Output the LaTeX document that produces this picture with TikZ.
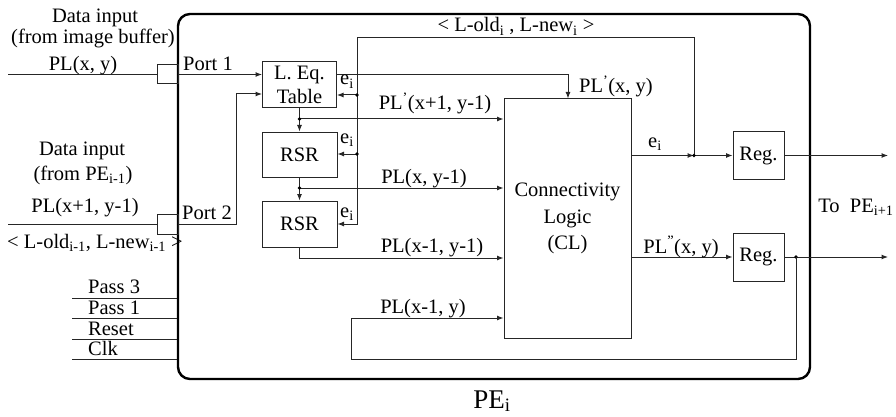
\documentclass[tikz,border=0pt]{standalone}
\usepackage{fontspec}
\setmainfont{Liberation Serif}
\usetikzlibrary{arrows.meta}
\begin{document}
\begin{tikzpicture}[x=1pt,y=-1pt,
  every node/.style={font=\fontsize{20.5}{25}\selectfont, inner sep=0pt},
  blk/.style={draw=black!85, line width=1pt},
  wire/.style={draw=black!85, line width=1pt},
  arr/.style={wire, -{Latex[length=6.5pt,width=5pt]}},
  lbl/.style={anchor=base},
  lblw/.style={anchor=base west}]
\useasboundingbox (0,0) rectangle (896,417);

% outer frame
\node[draw, line width=2.4pt, rounded corners=12pt, minimum width=632pt, minimum height=365pt] (pe) at (494,196.5) {};

% blocks
\node[blk, minimum width=21pt, minimum height=19pt] (port1) at (167.5,74.5) {};
\node[blk, minimum width=21pt, minimum height=20pt] (port2) at (167.5,224) {};
\node[blk, minimum width=74pt, minimum height=46pt, align=center, font=\fontsize{20.5}{24}\selectfont] (table) at (299.5,85) {L. Eq.\\Table};
\node[blk, minimum width=75pt, minimum height=45pt] (rsr1) at (299.5,154.5) {RSR};
\node[blk, minimum width=75pt, minimum height=46pt] (rsr2) at (299.5,224) {RSR};
\node[blk, minimum width=127pt, minimum height=239pt, align=center, font=\fontsize{20.5}{26.5}\selectfont] (cl) at (567.5,218.5) {Connectivity\\Logic\\(CL)};
\node[blk, minimum width=51pt, minimum height=48pt] (reg1) at (758.5,155.5) {Reg.};
\node[blk, minimum width=51pt, minimum height=48pt] (reg2) at (758.5,257) {Reg.};

% coordinates
\coordinate (in1) at (8,74.5);
\coordinate (in2) at (8,224);
\coordinate (p2turn) at (236,224);
\coordinate (t2) at (262,94);
\coordinate (ej) at (694,155.5);
\coordinate (fbtop) at (357,38);
\coordinate (fbbot) at (357,224);
\coordinate (fb1) at (357,95);
\coordinate (fb2) at (357,154);
\coordinate (plxy) at (568,74.5);
\coordinate (o1) at (888,155.5);
\coordinate (o2) at (888,257);
\coordinate (d1) at (299.5,119);
\coordinate (d2) at (299.5,188);
\coordinate (c3) at (299.5,258);
\coordinate (d3) at (796,257);
\coordinate (lpb) at (351,359);
\coordinate (lpt) at (351,318);
\coordinate (ca) at (72,298);
\coordinate (cb) at (72,318);
\coordinate (cc) at (72,339);
\coordinate (cd) at (72,359);

% inputs
\draw[wire] (in1) -- (port1.west);
\draw[wire] (in2) -- (port2.west);
\draw[arr] (port1.east) -- (port1.east -| table.west);
\draw[arr] (port2.east) -- (p2turn) |- (t2);

% feedback of L-old / L-new
\draw[arr] (ej) |- (fbtop) -- (fbbot) -- (fbbot -| rsr2.east);
\draw[arr] (fb1) -- (fb1 -| table.east);
\draw[arr] (fb2) -- (fb2 -| rsr1.east);
\fill (fb1) circle (1.8pt);
\fill (fb2) circle (1.8pt);

% table to CL top
\draw[arr] (table.east |- plxy) -- (plxy) -- (plxy |- cl.north);

% shift chain
\draw[arr] (table.south) -- (rsr1.north);
\draw[arr] (d1) -- (d1 -| cl.west);
\fill (d1) circle (1.8pt);
\draw[arr] (rsr1.south) -- (rsr2.north);
\draw[arr] (d2) -- (d2 -| cl.west);
\fill (d2) circle (1.8pt);
\draw[arr] (rsr2.south) -- (c3) -- (c3 -| cl.west);

% CL outputs
\draw[arr] (cl.east |- ej) -- (ej);
\draw[arr] (ej) -- (reg1.west);
\fill (ej) circle (1.8pt);
\draw[arr] (reg1.east) -- (o1);
\draw[arr] (cl.east |- reg2.west) -- (reg2.west);
\draw[arr] (reg2.east) -- (o2);
\fill (d3) circle (1.8pt);
\draw[arr] (d3) |- (lpb) -- (lpt) -- (lpt -| cl.west);

% control lines
\draw[wire] (ca) -- (ca -| pe.west);
\draw[wire] (cb) -- (cb -| pe.west);
\draw[wire] (cc) -- (cc -| pe.west);
\draw[wire] (cd) -- (cd -| pe.west);

% labels
\node[lbl] (l1) at (95,23) {Data input};
\node[lbl] (l2) at (93,44) {(from image buffer)};
\node[lbl] (l3) at (83,70.5) {PL(x, y)};
\node[lbl] (l4) at (208,70.5) {Port 1};
\node[lbl] (l5) at (82,155) {Data input};
\node[lbl] (l6) at (83,180) {(from PE\textsubscript{i-1})};
\node[lbl] (l7) at (85,212) {PL(x+1, y-1)};
\node[lbl] (l8) at (207,219) {Port 2};
\node[lbl] (l9) at (95,248) {< L-old\textsubscript{i-1}, L-new\textsubscript{i-1} >};
\node[lbl] (l10) at (516,32) {< L-old\textsubscript{i} , L-new\textsubscript{i} >};
\node[lbl] (e1) at (347,85) {e\textsubscript{i}};
\node[lbl] (e2) at (347,143) {e\textsubscript{i}};
\node[lbl] (e3) at (347,217) {e\textsubscript{i}};
\node[lbl] (l11) at (435,110) {PL\textsuperscript{'}(x+1, y-1)};
\node[lbl] (l12) at (616,93) {PL\textsuperscript{'}(x, y)};
\node[lbl] (l13) at (424,183) {PL(x, y-1)};
\node[lbl] (l14) at (432,252) {PL(x-1, y-1)};
\node[lbl] (l15) at (423,313) {PL(x-1, y)};
\node[lbl] (e4) at (655,147) {e\textsubscript{i}};
\node[lbl] (l16) at (681,253) {PL\textsuperscript{"}(x, y)};
\node[lbl] (l17) at (856,212) {To\ \ PE\textsubscript{i+1}};
\node[lbl, font=\fontsize{27}{30}\selectfont] (l18) at (492,408) {PE\textsubscript{i}};
\node[lblw] (c1) at (88,293) {Pass 3};
\node[lblw] (c2) at (88,314) {Pass 1};
\node[lblw] (c3l) at (88,335) {Reset};
\node[lblw] (c4) at (88,355) {Clk};
\end{tikzpicture}
\end{document}
